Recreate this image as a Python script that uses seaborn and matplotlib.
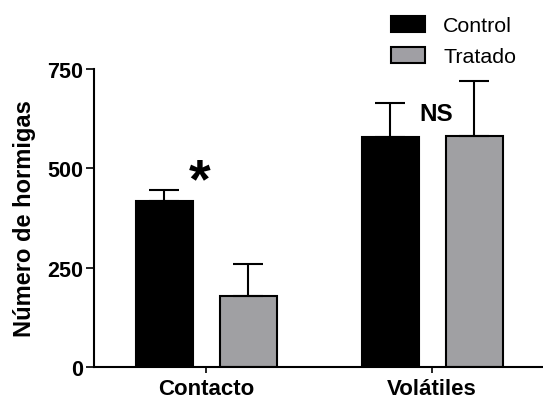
import matplotlib
matplotlib.use("Agg")
import matplotlib.pyplot as plt
from matplotlib.patches import Patch
import seaborn as sns
import pandas as pd

# Mean ant counts and standard errors per assay and treatment
assays = ["Contacto", "Volátiles"]
treatments = ["Control", "Tratado"]
control_mean = [418, 579]
treated_mean = [179, 582]
control_err = [28, 86]
treated_err = [80, 138]
signif = ["*", "NS"]
y_ticks = [0, 250, 500, 750]

colors = {"Control": "#000000", "Tratado": "#a09fa4"}

df = pd.DataFrame({
    "assay": assays * 2,
    "treatment": [treatments[0]] * 2 + [treatments[1]] * 2,
    "count": control_mean + treated_mean,
    "err": control_err + treated_err,
})

sns.set_style("ticks")
plt.rcParams["font.family"] = ["Liberation Sans", "DejaVu Sans"]
plt.rcParams["text.color"] = "black"
plt.rcParams["axes.labelcolor"] = "black"
plt.rcParams["xtick.color"] = "black"
plt.rcParams["ytick.color"] = "black"

fig = plt.figure(figsize=(5.43, 4.02), dpi=100)
ax = fig.add_axes([0.173, 0.0846, 0.827, 0.7414])

sns.barplot(data=df, x="assay", y="count", hue="treatment",
            hue_order=treatments, order=assays, palette=colors,
            width=0.743, gap=0.32, errorbar=None, edgecolor="black",
            linewidth=1.5, legend=False, ax=ax)

# Upper-only error bars placed on each drawn bar
bars = [p for p in ax.patches if p.get_height() > 0]
for bar in bars:
    cx = bar.get_x() + bar.get_width() / 2
    h = bar.get_height()
    row = df[df["count"] == h].iloc[0]
    ax.errorbar(cx, h, yerr=[[0], [row["err"]]], fmt="none",
                ecolor="black", elinewidth=1.5, capsize=10.8,
                capthick=1.5, zorder=1)

ax.set_xlim(-0.496, 1.49)
ax.set_ylim(0, 750)
ax.set_yticks(y_ticks)
ax.set_xlabel("")
ax.set_ylabel("Número de hormigas", fontsize=17, fontweight="bold",
              labelpad=8, color="black")

for lab in ax.get_yticklabels():
    lab.set_fontweight("bold")
    lab.set_fontsize(15.5)
    lab.set_color("black")
for lab in ax.get_xticklabels():
    lab.set_fontweight("bold")
    lab.set_fontsize(16)
    lab.set_color("black")

ax.tick_params(axis="y", length=6, width=1.2, pad=2, colors="black")
ax.tick_params(axis="x", length=4, width=1.2, pad=4, colors="black")
for side in ["left", "bottom"]:
    ax.spines[side].set_linewidth(1.5)
    ax.spines[side].set_color("black")
sns.despine(ax=ax)

# Significance marks above each assay
ax.text(-0.027, 466, signif[0], ha="center", va="center",
        fontsize=40, fontweight="bold", color="black")
ax.text(1.018, 637, signif[1], ha="center", va="center",
        fontsize=17.5, fontweight="bold", color="black")

handles = [Patch(facecolor=colors[t], edgecolor="black", linewidth=1.5, label=t)
           for t in treatments]
fig.legend(handles=handles, loc="upper left", bbox_to_anchor=(0.720, 0.958),
           frameon=False, fontsize=15.4, handlelength=1.6, handleheight=0.75,
           handletextpad=0.84, labelspacing=0.55, borderpad=0,
           borderaxespad=0, labelcolor="black")

fig.savefig("out.png", dpi=100)
